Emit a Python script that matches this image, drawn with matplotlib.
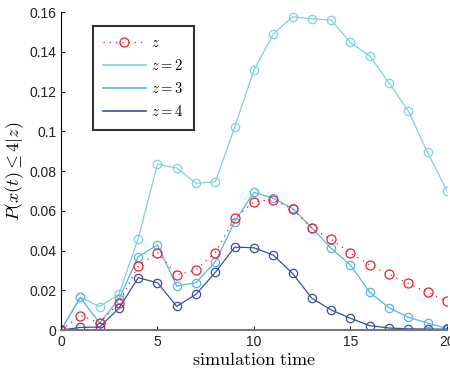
import matplotlib
matplotlib.use("Agg")
import matplotlib.pyplot as plt
from matplotlib.lines import Line2D

plt.rcParams['mathtext.fontset'] = 'cm'
plt.rcParams['font.family'] = ['Liberation Sans', 'DejaVu Sans']

t = list(range(21))
p_z = [0, 0.0072, 0.0037, 0.0135, 0.0322, 0.039, 0.0277, 0.0302, 0.039, 0.0563,
       0.0646, 0.0655, 0.0609, 0.0512, 0.0456, 0.0388, 0.0327, 0.028, 0.0235, 0.019, 0.0145]
p_z2 = [0, 0.0165, 0.0118, 0.018, 0.046, 0.0835, 0.0815, 0.0738, 0.0746, 0.102,
        0.1308, 0.1489, 0.1576, 0.1566, 0.156, 0.1447, 0.1379, 0.1244, 0.1102, 0.0894, 0.0702]
p_z3 = [0, 0.0164, 0.0035, 0.0155, 0.0369, 0.0428, 0.0221, 0.0238, 0.0344, 0.0545,
        0.0693, 0.0663, 0.0612, 0.0515, 0.0411, 0.0327, 0.019, 0.0112, 0.0064, 0.0035, 0.0008]
p_z4 = [0, 0.0013, 0.0015, 0.0109, 0.0263, 0.0238, 0.0119, 0.018, 0.029, 0.0417,
        0.0414, 0.0377, 0.0285, 0.016, 0.0101, 0.0059, 0.0022, 0.001, 0.0006, 0.0005, 0.0004]

c_red = '#e8202a'
c2 = '#80d0e0'
c3 = '#5ab4e6'
c4 = '#3a4f9f'

fig = plt.figure(figsize=(4.5, 3.71), dpi=100)
ax = fig.add_axes([0.1356, 0.1105, 0.8574, 0.857])

mk = dict(marker='o', markersize=6, markerfacecolor='none', markeredgewidth=0.9)
ax.plot(t, p_z2, color=c2, lw=0.9, **mk)
ax.plot(t, p_z3, color=c3, lw=0.9, **mk)
ax.plot(t, p_z4, color=c4, lw=0.9, **mk)
ax.plot(t, p_z, color=c_red, lw=0.9, ls=(0, (1, 4)), marker='o', markersize=6.5,
        markerfacecolor='none', markeredgewidth=0.9)

ax.set_xlim(0, 20)
ax.set_ylim(0, 0.16)
ax.set_xticks([0, 5, 10, 15, 20])
ax.set_yticks([0, 0.02, 0.04, 0.06, 0.08, 0.1, 0.12, 0.14, 0.16])
ax.set_yticklabels(['0', '0.02', '0.04', '0.06', '0.08', '0.1', '0.12', '0.14', '0.16'])
ax.tick_params(direction='in', labelsize=10, length=3, colors='#222222')
for s in ['top', 'right']:
    ax.spines[s].set_visible(False)
ax.spines['left'].set_color('black')
ax.spines['bottom'].set_color('#777777')
ax.spines['bottom'].set_linewidth(1.5)

ax.set_xlabel(r'$\mathrm{simulation\ time}$', fontsize=13, labelpad=2)
ax.set_ylabel(r'$P(x(t)\leq 4|z)$', fontsize=13, labelpad=2)

# legend: only the z entry shows a marker
handles = [
    Line2D([], [], color=c_red, lw=0.9, ls=(0, (1, 4)), marker='o', markersize=6.5,
           markerfacecolor='none', markeredgewidth=0.9),
    Line2D([], [], color=c2, lw=1.2),
    Line2D([], [], color=c3, lw=1.2),
    Line2D([], [], color=c4, lw=1.2),
]
labels = [r'$z$', r'$z=2$', r'$z=3$', r'$z=4$']
leg = ax.legend(handles, labels, loc='upper left', bbox_to_anchor=(0.083, 0.956),
                borderaxespad=0, fontsize=10.5, frameon=True, fancybox=False,
                handlelength=2.9, labelspacing=0.55, borderpad=0.7,
                handletextpad=0.4)
leg.get_frame().set_edgecolor('black')
leg.get_frame().set_linewidth(1.5)

fig.savefig('out.png', dpi=100)
